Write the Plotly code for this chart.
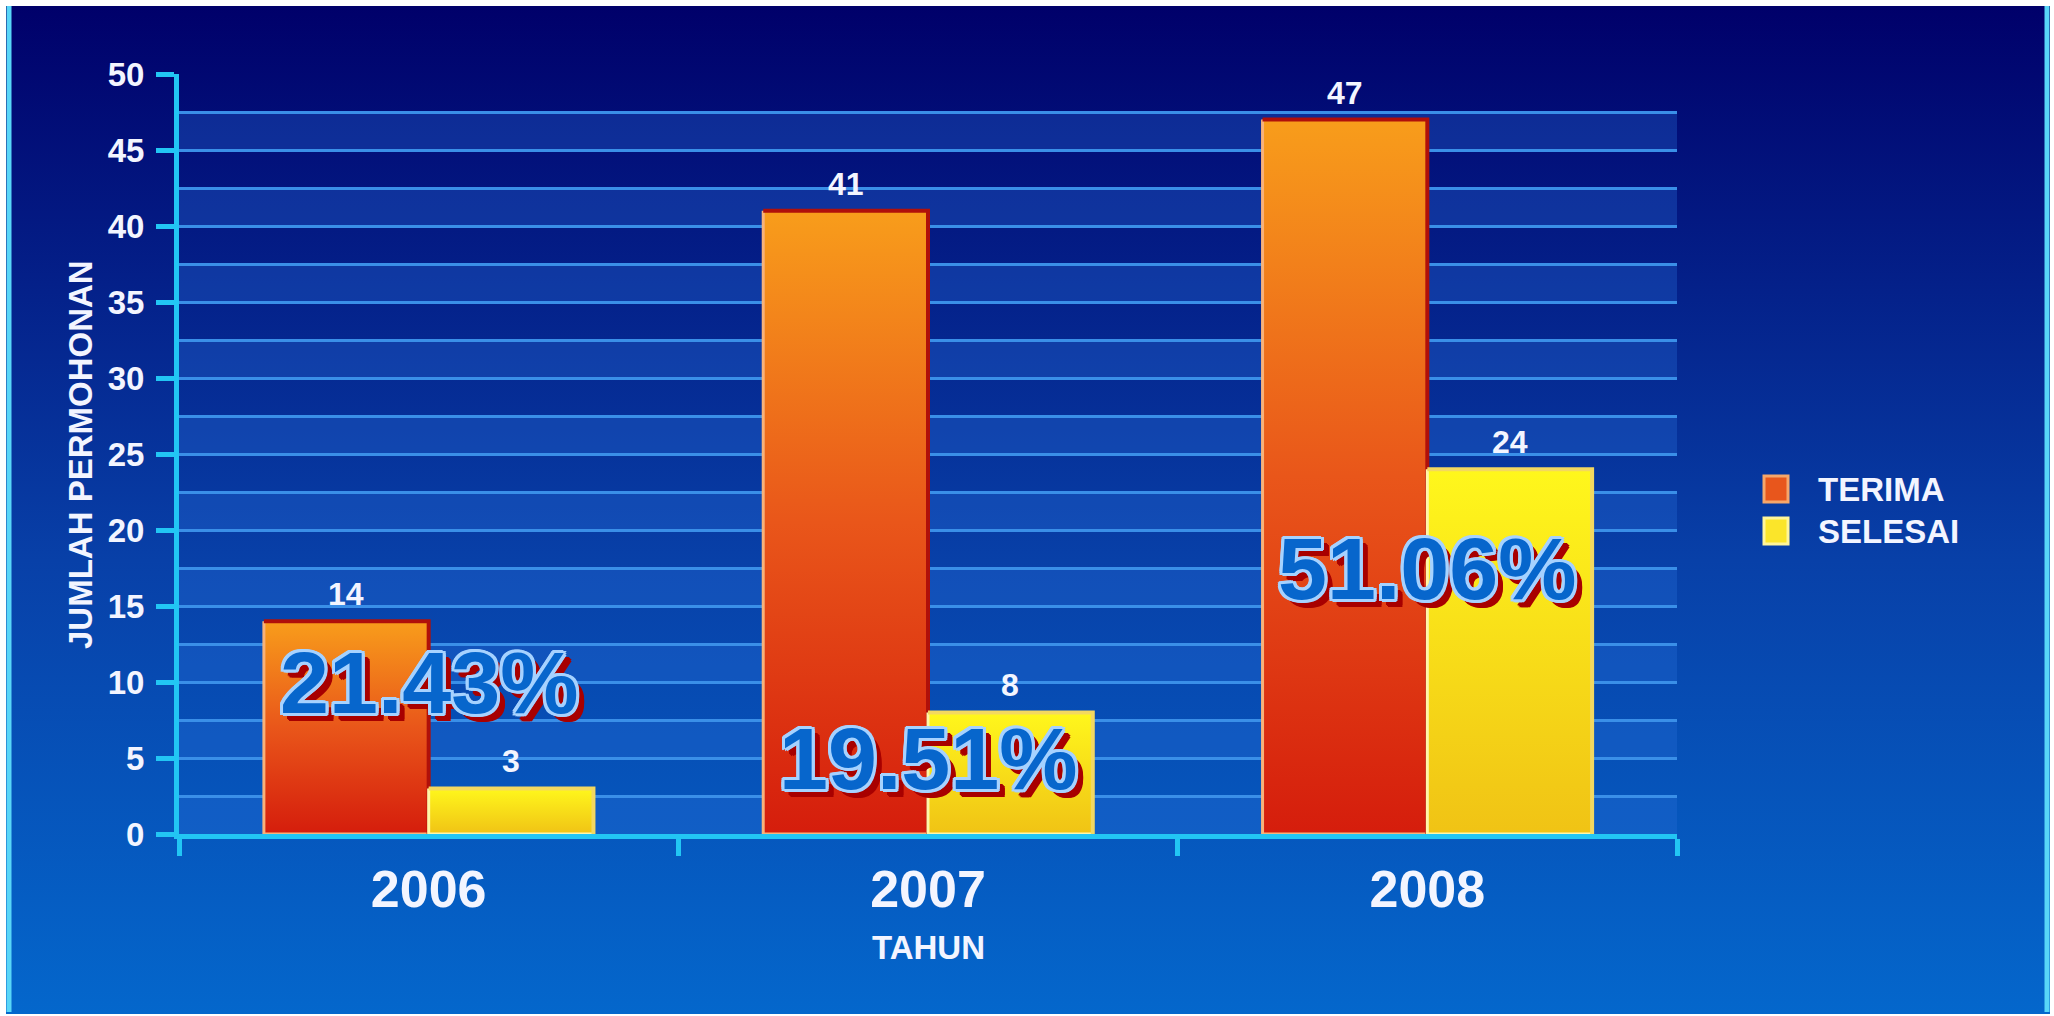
import plotly.graph_objects as go

# ---------------- data ----------------
years = ["2006", "2007", "2008"]
terima = [14, 41, 47]
selesai = [3, 8, 24]
series_names = ["TERIMA", "SELESAI"]
y_ticks = [0, 5, 10, 15, 20, 25, 30, 35, 40, 45, 50]

# ---------------- layout constants ----------------
W, H = 2054, 1016
CYAN = "#22c6f4"
GRID = "#3a8fe8"
WHITE = "#f3f5ff"
FONT = "Liberation Sans, Arial, sans-serif"
PCT_FONT = "Liberation Sans, Arial, sans-serif"
BAR_W = 0.33
pct_label_y = [10, 5, 17.5]   # vertical anchor of the ratio labels (layout)

styles = {
    "TERIMA": dict(offset=-BAR_W, scale=[[0, "#d51d0c"], [0.5, "#e9561a"], [1, "#f89d1b"]],
                   dark="#b0100a", light="#f8b27a", legend="#e8561c", legend_edge="#f6a66a"),
    "SELESAI": dict(offset=0.0, scale=[[0, "#f0c315"], [1, "#fff71c"]],
                    dark="#f3d860", light="#fff6a8", legend="#fbe52a", legend_edge="#fff59a"),
}

def fx(p):
    return p / W

def fy(p):
    return 1 - p / H

fig = go.Figure()

# background gradient panel (full-page helper subplot)
fig.add_trace(go.Scatter(
    x=[0, 1, 1, 0, 0], y=[0, 0, 1, 1, 0], fill="toself", mode="none",
    fillgradient=dict(type="vertical",
                      colorscale=[[0, "#0467cc"], [0.45, "#0840a8"], [1, "#00006a"]]),
    xaxis="x", yaxis="y", hoverinfo="skip", showlegend=False))

# bars with vertical gradient
for name, vals in zip(series_names, [terima, selesai]):
    st = styles[name]
    for i, v in enumerate(vals):
        x0 = i + st["offset"]
        x1 = x0 + BAR_W
        fig.add_trace(go.Scatter(
            x=[x0, x1, x1, x0, x0], y=[0, 0, v, v, 0], fill="toself", mode="none",
            fillgradient=dict(type="vertical", colorscale=st["scale"]),
            xaxis="x2", yaxis="y2", name=name, showlegend=False, hoverinfo="skip"))
        fig.add_trace(go.Scatter(
            x=[x0, x0, x1], y=[v, 0, 0], mode="lines",
            line=dict(color=st["light"], width=3),
            xaxis="x2", yaxis="y2", showlegend=False, hoverinfo="skip"))
        fig.add_trace(go.Scatter(
            x=[x0, x1, x1], y=[v, v, 0], mode="lines",
            line=dict(color=st["dark"], width=4),
            xaxis="x2", yaxis="y2", showlegend=False, hoverinfo="skip"))
        fig.add_annotation(
            x=x0 + BAR_W / 2, y=v, xref="x2", yref="y2", text=str(v),
            showarrow=False, xanchor="center", yanchor="bottom", yshift=7,
            font=dict(family=FONT, size=32, color=WHITE, weight="bold"))

# ratio labels (SELESAI / TERIMA)
outline = [(3, 0), (-3, 0), (0, 3), (0, -3), (2, 2), (-2, -2), (2, -2), (-2, 2),
           (3, 2), (2, 3), (-3, -2), (-2, -3), (3, -2), (-3, 2)]
redsh = [(6, 6), (7, 5), (5, 7), (8, 6), (6, 8), (4, 6), (6, 4), (8, 8), (7, 7)]
SHADOW = ", ".join([f"{dx}px {dy}px 0 #a6d2ff" for dx, dy in outline] +
                   [f"{dx}px {dy}px 0 #a80000" for dx, dy in redsh])
for i, (t, s) in enumerate(zip(terima, selesai)):
    fig.add_annotation(
        x=i, y=pct_label_y[i], xref="x2", yref="y2",
        text=f"{s / t * 100:.2f}%", showarrow=False, xanchor="center", yanchor="middle",
        font=dict(family=PCT_FONT, size=88, color="#0766cc", weight="bold", shadow=SHADOW))

# band shading between gridlines
for k in range(0, 50, 5):
    fig.add_shape(type="rect", xref="x2", yref="y2", x0=-0.5, x1=2.5, y0=k, y1=k + 2.5,
                  fillcolor="rgba(40,110,215,0.33)", line=dict(width=0), layer="below")

# legend (manual)
leg_rows = [(489, series_names[0]), (531, series_names[1])]
for cy, name in leg_rows:
    st = styles[name]
    fig.add_shape(type="rect", xref="paper", yref="paper",
                  x0=fx(1764), x1=fx(1788), y0=fy(cy + 13), y1=fy(cy - 13),
                  fillcolor=st["legend"], line=dict(color=st["legend_edge"], width=3),
                  layer="above")
    fig.add_annotation(x=fx(1816), y=fy(cy), xref="paper", yref="paper", text=name,
                       showarrow=False, xanchor="left", yanchor="middle",
                       font=dict(family=FONT, size=33, color=WHITE, weight="bold"))

# axis titles
fig.add_annotation(x=fx(80), y=fy(455), xref="paper", yref="paper",
                   text="JUMLAH PERMOHONAN", textangle=-90, showarrow=False,
                   xanchor="center", yanchor="middle",
                   font=dict(family=FONT, size=33, color=WHITE, weight="bold"))
fig.add_annotation(x=fx(928), y=fy(947), xref="paper", yref="paper",
                   text="TAHUN", showarrow=False, xanchor="center", yanchor="middle",
                   font=dict(family=FONT, size=33, color=WHITE, weight="bold"))

# frame lines on left/right
for xp in (9, 2047):
    fig.add_shape(type="line", xref="paper", yref="paper", x0=fx(xp), x1=fx(xp),
                  y0=fy(1012), y1=fy(6), line=dict(color="#58d6f8", width=5), layer="above")

fig.update_layout(
    autosize=True, margin=dict(l=0, r=0, t=0, b=0, autoexpand=False),
    paper_bgcolor="white", plot_bgcolor="rgba(0,0,0,0)", showlegend=False,
    xaxis=dict(domain=[fx(6), fx(2050)], range=[0, 1], visible=False, fixedrange=True),
    yaxis=dict(domain=[2 / H, fy(6)], range=[0, 1], visible=False, fixedrange=True),
    xaxis2=dict(domain=[fx(179), fx(1677)], anchor="y2", range=[-0.5, len(years) - 0.5],
                tickmode="array", tickvals=list(range(len(years))), ticktext=years,
                ticks="", showgrid=False, zeroline=False, automargin=False,
                showline=True, linecolor=CYAN, linewidth=5,
                tickfont=dict(family=FONT, size=52, color=WHITE, weight="bold"),
                ticklabelstandoff=6,
                minor=dict(tickmode="array", tickvals=[i - 0.5 for i in range(len(years) + 1)],
                           ticks="outside", ticklen=17, tickwidth=5, tickcolor=CYAN,
                           showgrid=False)),
    yaxis2=dict(domain=[fy(834), fy(74)], anchor="x2", range=[0, 50],
                tickmode="array", tickvals=y_ticks, automargin=False,
                ticks="outside", ticklen=18, tickwidth=5, tickcolor=CYAN,
                showline=True, linecolor=CYAN, linewidth=5, zeroline=False,
                showgrid=True, gridcolor=GRID, gridwidth=3,
                minor=dict(dtick=2.5, showgrid=True, gridcolor=GRID, gridwidth=3, ticks=""),
                tickfont=dict(family=FONT, size=33, color=WHITE, weight="bold"),
                ticklabelstandoff=5),
)

fig.write_html(
    "out.html",
    config={"displayModeBar": False, "responsive": True},
    default_width="100vw", default_height="100vh",
    post_script="document.body.style.margin='0';document.body.style.overflow='hidden';",
)
